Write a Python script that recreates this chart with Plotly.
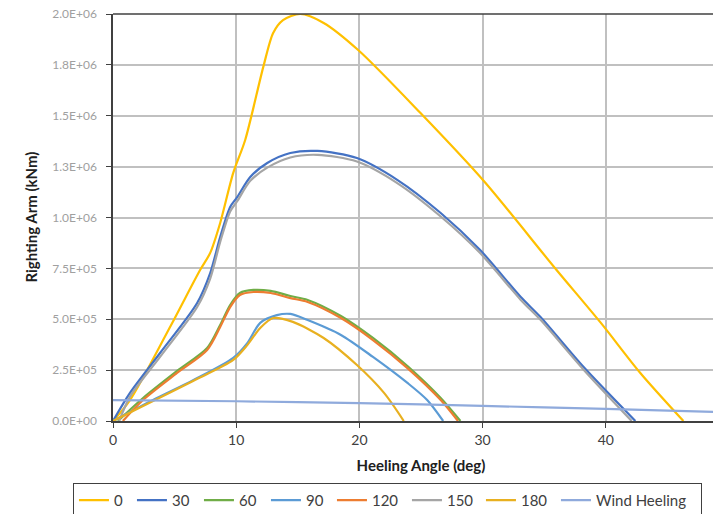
import plotly.graph_objects as go

# Heel angle (deg) / righting arm (kNm) per wind direction series
x_0 = [0, 1.38, 4.63, 7.07, 7.89, 8.70, 9.76, 10.73, 12.2, 13.0, 13.8, 15.2, 17.1, 19.9, 24.96, 30.1, 35.8, 39.6, 42.8, 46.3]
y_0 = [0, 0.103e6, 0.462e6, 0.742e6, 0.826e6, 0.973e6, 1.219e6, 1.381e6, 1.74e6, 1.907e6, 1.97e6, 2.0e6, 1.956e6, 1.823e6, 1.513e6, 1.179e6, 0.757e6, 0.482e6, 0.236e6, 0]

x_30 = [0, 1.38, 3.82, 6.83, 7.89, 8.70, 9.51, 10.08, 11.14, 12.52, 14.39, 16.6, 19.8, 23.1, 26.6, 29.8, 33.1, 34.7, 38.2, 42.4]
y_30 = [0, 0.138e6, 0.334e6, 0.58e6, 0.727e6, 0.904e6, 1.052e6, 1.10e6, 1.199e6, 1.268e6, 1.317e6, 1.327e6, 1.292e6, 1.184e6, 1.022e6, 0.84e6, 0.609e6, 0.511e6, 0.265e6, 0]

x_60 = [0.4, 2.44, 5.2, 7.64, 8.7, 9.51, 10.3, 11.4, 12.8, 14.4, 15.8, 18.5, 21.1, 23.9, 26.6, 28.2]
y_60 = [0, 0.113e6, 0.246e6, 0.359e6, 0.472e6, 0.57e6, 0.629e6, 0.644e6, 0.639e6, 0.614e6, 0.595e6, 0.516e6, 0.408e6, 0.27e6, 0.113e6, 0]

x_90 = [0, 3.25, 6.5, 9.76, 10.9, 11.95, 13.3, 14.4, 15.8, 18.5, 21.1, 23.9, 25.5, 26.8]
y_90 = [0, 0.103e6, 0.20e6, 0.31e6, 0.383e6, 0.482e6, 0.52e6, 0.526e6, 0.496e6, 0.423e6, 0.315e6, 0.187e6, 0.103e6, 0]

x_120 = [0.8, 2.44, 5.2, 7.64, 8.7, 9.51, 10.3, 11.4, 12.8, 14.4, 15.8, 18.5, 21.1, 23.9, 26.6, 28.0]
y_120 = [0, 0.103e6, 0.236e6, 0.349e6, 0.462e6, 0.56e6, 0.619e6, 0.634e6, 0.629e6, 0.604e6, 0.585e6, 0.506e6, 0.398e6, 0.26e6, 0.103e6, 0]

x_150 = [0.5, 1.38, 3.82, 6.83, 7.89, 8.70, 9.51, 10.08, 11.14, 12.52, 14.39, 16.6, 19.8, 23.1, 26.6, 29.8, 33.1, 34.7, 38.2, 42.1]
y_150 = [0, 0.12e6, 0.315e6, 0.56e6, 0.70e6, 0.88e6, 1.03e6, 1.08e6, 1.18e6, 1.245e6, 1.295e6, 1.308e6, 1.275e6, 1.168e6, 1.005e6, 0.825e6, 0.595e6, 0.497e6, 0.252e6, 0]

x_180 = [0, 3.25, 6.5, 9.76, 10.9, 11.95, 13.0, 14.6, 17.1, 19.8, 22.0, 23.6]
y_180 = [0, 0.098e6, 0.197e6, 0.30e6, 0.373e6, 0.457e6, 0.506e6, 0.487e6, 0.408e6, 0.275e6, 0.138e6, 0]

x_wind = [0, 10, 20, 30, 40, 50]
y_wind = [1.03e5, 0.97e5, 0.88e5, 0.74e5, 0.60e5, 0.42e5]

series = [
    ("0", x_0, y_0, "#FFC000"),
    ("30", x_30, y_30, "#4472C4"),
    ("60", x_60, y_60, "#70AD47"),
    ("90", x_90, y_90, "#5B9BD5"),
    ("120", x_120, y_120, "#ED7D31"),
    ("150", x_150, y_150, "#A5A5A5"),
    ("180", x_180, y_180, "#E8B020"),
    ("Wind Heeling", x_wind, y_wind, "#8FAADC"),
]
legend_widths = [13, 22, 22, 21, 30, 29, 30, 100]

y_tickvals = [0, 2.5e5, 5e5, 7.5e5, 1e6, 1.25e6, 1.5e6, 1.75e6, 2e6]
y_ticktext = ["0.0E+00", "2.5E+05", "5.0E+05", "7.5E+05", "1.0E+06", "1.3E+06", "1.5E+06", "1.8E+06", "2.0E+06"]
x_tickvals = [0, 10, 20, 30, 40, 50]

fig = go.Figure()
for (name, xs, ys, col), lw in zip(series, legend_widths):
    fig.add_trace(go.Scatter(x=xs, y=ys, name=name, mode="lines", legendwidth=lw,
                             line=dict(color=col, width=2.2, shape="spline", smoothing=0.8)))

FONT = "Lato, Open Sans, sans-serif"
fig.update_layout(
    width=721, height=514,
    margin=dict(l=105, r=0, t=6, b=101, autoexpand=False),
    paper_bgcolor="white", plot_bgcolor="white",
    font=dict(family=FONT, color="#404040"),
    showlegend=True,
    legend=dict(orientation="h", x=-0.065, xanchor="left", y=-0.152, yanchor="top",
                bordercolor="#404040", borderwidth=1, font=dict(size=15, color="#404040"),
                tracegroupgap=0, itemwidth=30),
    xaxis=dict(range=[0, 50], tickvals=x_tickvals, showgrid=True, gridcolor="#C0C0C0", gridwidth=1.5,
               showline=True, linecolor="#404040", linewidth=1.5, mirror=False, automargin=False,
               ticks="outside", ticklen=5, tickcolor="#404040", ticklabeloverflow="allow",
               tickfont=dict(size=14, color="#404040"), zeroline=False,
               title=dict(text="<b>Heeling Angle (deg)</b>", font=dict(size=15, color="#202020"), standoff=14)),
    yaxis=dict(range=[0, 2e6], tickvals=y_tickvals, ticktext=y_ticktext, showgrid=True,
               gridcolor="#C0C0C0", gridwidth=1.5, automargin=False,
               showline=True, linecolor="#404040", linewidth=1.5,
               ticks="outside", ticklen=5, tickcolor="#404040", ticklabelstandoff=7,
               ticklabeloverflow="allow",
               tickfont=dict(size=12, color="#A0A0A0"), zeroline=False),
    annotations=[dict(text="<b>Righting Arm (kNm)</b>", xref="paper", yref="paper",
                      x=-0.1347, y=0.5, xanchor="center", yanchor="middle", textangle=-90,
                      showarrow=False, font=dict(size=15, color="#202020"))],
)
# top border of plot area
fig.add_shape(type="line", xref="paper", yref="paper", x0=0, x1=1, y0=1, y1=1,
              line=dict(color="#404040", width=1.5))

fig.write_html("out.html")
